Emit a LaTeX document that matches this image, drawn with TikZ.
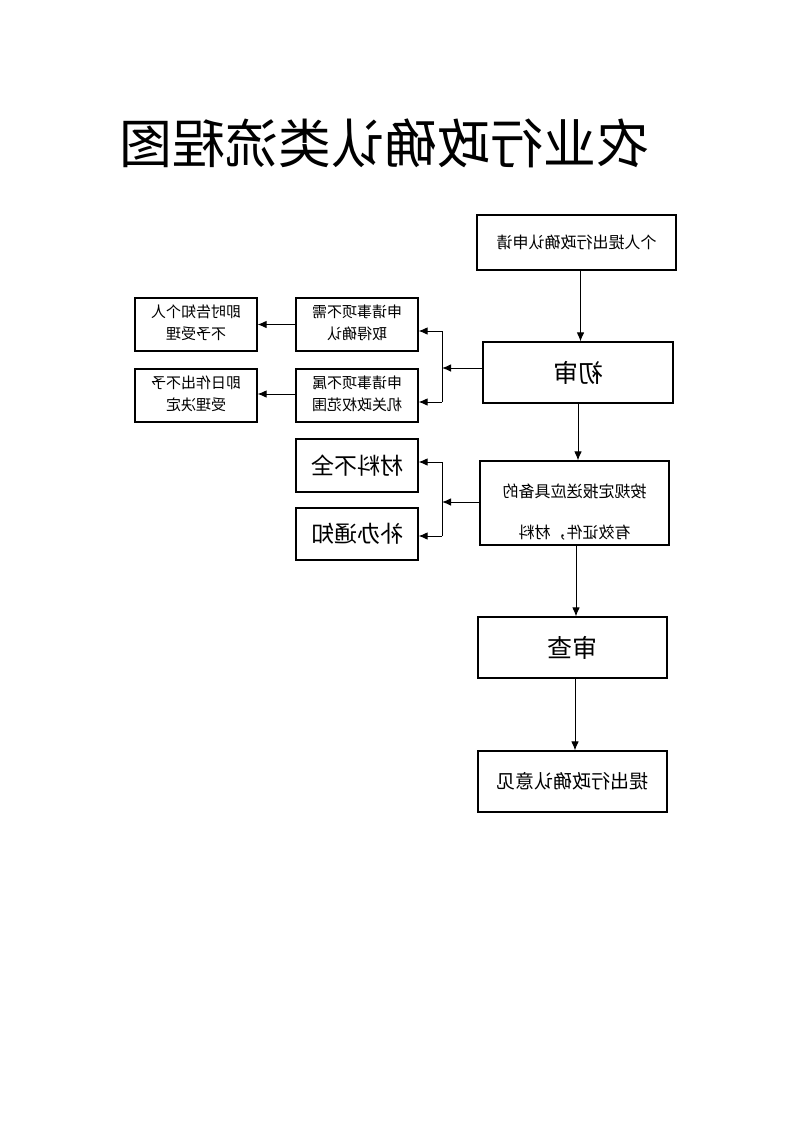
\documentclass[tikz,border=0pt]{standalone}
\usepackage{fontspec}
\usepackage{graphicx}
\setmainfont{Noto Sans CJK SC}
\usetikzlibrary{arrows.meta}
\newcommand{\mir}[1]{\reflectbox{#1}}
\newcommand{\twoline}[4]{\reflectbox{\fontsize{#3}{#4}\selectfont\begin{tabular}{@{}c@{}}#1\\#2\end{tabular}}}
\begin{document}
\begin{tikzpicture}[x=1pt,y=-1pt,
  box/.style={draw, line width=1.1pt, inner sep=0pt, align=center},
  arr/.style={line width=1pt, -{Latex[length=9pt,width=7.5pt]}},
  ln/.style={line width=1pt}]
\useasboundingbox (0,0) rectangle (793,1122);
% title
\node (title) at (384,143) {\mir{\fontsize{53}{60}\selectfont 农业行政确认类流程图}};
% boxes
\node[box, minimum width=199pt, minimum height=55pt] (A) at (576.5,242.5)
  {\mir{\fontsize{16}{20}\selectfont 个人提出行政确认申请}};
\node[box, minimum width=190pt, minimum height=61pt] (chushen) at (578,372.5)
  {\mir{\fontsize{25}{30}\selectfont 初审}};
\node[box, minimum width=122pt, minimum height=53pt] (n1) at (357,324.5)
  {\twoline{申请事项不需}{取得确认}{15}{22}};
\node[box, minimum width=122pt, minimum height=53pt] (n2) at (196,324.5)
  {\twoline{即时告知个人}{不予受理}{15}{22}};
\node[box, minimum width=122pt, minimum height=53pt] (n3) at (357,395.5)
  {\twoline{申请事项不属}{机关政权范围}{15}{22}};
\node[box, minimum width=122pt, minimum height=53pt] (n4) at (196,395.5)
  {\twoline{即日作出不予}{受理决定}{15}{22}};
\node[box, minimum width=189pt, minimum height=84pt] (B) at (574.5,503) {};
\node (Btext) at (574.5,509.5) {\twoline{按规定报送应具备的}{有效证件，材料}{16}{41}};
\node[box, minimum width=122pt, minimum height=53pt] (m1) at (357,465.5)
  {\mir{\fontsize{23}{28}\selectfont 材料不全}};
\node[box, minimum width=122pt, minimum height=52pt] (m2) at (357,534)
  {\mir{\fontsize{23}{28}\selectfont 补办通知}};
\node[box, minimum width=189pt, minimum height=61pt] (shencha) at (572.5,647.5)
  {\mir{\fontsize{25}{30}\selectfont 审查}};
\node[box, minimum width=189pt, minimum height=61pt] (final) at (572.5,781.5)
  {\mir{\fontsize{19}{24}\selectfont 提出行政确认意见}};
% junction points
\coordinate (j1) at (442,368);
\coordinate (j1t) at (442,331);
\coordinate (j1b) at (442,402);
\coordinate (j2) at (442,502);
\coordinate (j2t) at (442,462);
\coordinate (j2b) at (442,536);
% connectors
\draw[arr] ([xshift=4pt]A.south) -- ([xshift=4pt]A.south |- chushen.north);
\draw[arr] (chushen.west |- j1) -- (j1);
\draw[ln] (j1t) -- (j1b);
\draw[arr] (j1t) -- (j1t -| n1.east);
\draw[arr] (j1b) -- (j1b -| n3.east);
\draw[arr] (n1.west) -- (n2.east);
\draw[arr] ([yshift=1.5pt]n3.west) -- ([yshift=1.5pt]n4.east);
\draw[arr] (chushen.south) -- (chushen.south |- B.north);
\draw[arr] (B.west |- j2) -- (j2);
\draw[ln] (j2t) -- (j2b);
\draw[arr] (j2t) -- (j2t -| m1.east);
\draw[arr] (j2b) -- (j2b -| m2.east);
\draw[arr] ([xshift=1.5pt]B.south) -- ([xshift=1.5pt]B.south |- shencha.north);
\draw[arr] ([xshift=2.5pt]shencha.south) -- ([xshift=2.5pt]shencha.south |- final.north);
\end{tikzpicture}
\end{document}
